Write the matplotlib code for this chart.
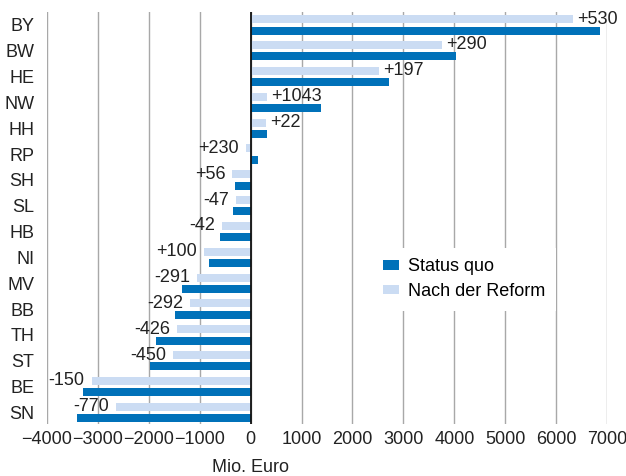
import numpy as np
import matplotlib.pyplot as plt

# Länderfinanzausgleich: Status quo vs. nach der Reform (Mio. Euro)
states = ["BY", "BW", "HE", "NW", "HH", "RP", "SH", "SL",
          "HB", "NI", "MV", "BB", "TH", "ST", "BE", "SN"]
status_quo = [6850, 4040, 2710, 1380, 330, 140, -300, -340,
              -600, -820, -1350, -1475, -1860, -1970, -3280, -3400]
reform = [6320, 3760, 2520, 330, 310, -90, -356, -290,
          -555, -915, -1055, -1185, -1435, -1515, -3120, -2635]
diff_labels = ["+530", "+290", "+197", "+1043", "+22", "+230", "+56", "-47",
               "-42", "+100", "-291", "-292", "-426", "-450", "-150", "-770"]

dark = "#0071b9"
light = "#cbdcf3"

plt.rcParams['font.family'] = ['Liberation Sans', 'DejaVu Sans']
plt.rcParams['font.size'] = 13

fig = plt.figure(figsize=(6.26, 4.76), dpi=100)
ax = fig.add_axes([0.0746, 0.109, 0.8955, 0.866])

y = np.arange(len(states))
h = 0.31
off = 0.22
ax.barh(y - off, reform, height=h, color=light, label="Nach der Reform", zorder=2)
ax.barh(y + off, status_quo, height=h, color=dark, label="Status quo", zorder=2)

# difference labels next to the light bar
for i, (val, txt) in enumerate(zip(reform, diff_labels)):
    if val >= 0:
        ax.annotate(txt, (val, i - off), xytext=(3, 0), textcoords="offset points",
                    ha="left", va="center", color="#222222")
    else:
        ax.annotate(txt, (val, i - off), xytext=(-5, 0), textcoords="offset points",
                    ha="right", va="center", color="#222222")

ax.set_xlim(-4000, 7000)
ax.set_ylim(15.45, -0.5)
ax.set_xticks(np.arange(-4000, 7001, 1000))
ax.set_yticks(y)
ax.set_yticklabels(states)
ax.tick_params(axis="both", length=0, colors="#222222")
ax.tick_params(axis="y", pad=9)
ax.tick_params(axis="x", pad=5)

ax.grid(axis="x", color="#a8a8a8", linewidth=1, zorder=0)
ax.axvline(0, color="#111111", linewidth=1.3, zorder=3)
for s in ax.spines.values():
    s.set_visible(False)

ax.set_xlabel("Mio. Euro", color="#222222", labelpad=8)
ax.xaxis.label.set_x(4000 / 11000)

handles, labels = ax.get_legend_handles_labels()
leg = ax.legend(handles[::-1], labels[::-1], loc="upper left",
                bbox_to_anchor=(0.565, 0.45), frameon=True, fancybox=False,
                handlelength=0.85, handleheight=0.4, handletextpad=0.5,
                labelspacing=0.4, borderpad=0.6)
leg.get_frame().set_edgecolor("none")
leg.get_frame().set_facecolor("white")
leg.get_frame().set_alpha(1)
leg.set_zorder(5)

fig.savefig("out.png", dpi=100)
